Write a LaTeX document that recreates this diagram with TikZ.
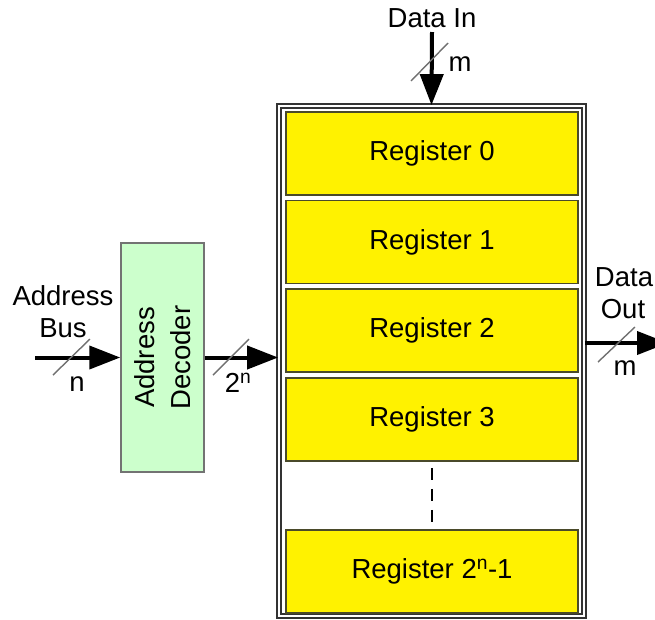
\documentclass[tikz,border=0pt]{standalone}
\usepackage{fontspec}
\setmainfont{Liberation Sans}
\usetikzlibrary{arrows.meta}
\definecolor{regborder}{HTML}{4A4A2A}
\definecolor{decfill}{HTML}{CCFFCC}
\definecolor{slashgray}{HTML}{707070}
\begin{document}
\begin{tikzpicture}[x=1pt,y=-1pt,
  font=\fontsize{27.5}{36}\selectfont,
  reg/.style={draw=regborder, line width=1.6pt, fill=yellow, minimum width=292pt, minimum height=83pt, inner sep=0pt},
  outerbox/.style={draw=black!80, double=white, double distance=2.2pt, line width=1.8pt, minimum width=305pt, minimum height=510pt, inner sep=0pt},
  decoder/.style={draw=black!55, line width=1.5pt, fill=decfill, minimum width=83pt, minimum height=229pt, inner sep=0pt},
  bus/.style={line width=4pt, -{Triangle[length=31pt,width=23pt]}},
  slash/.style={draw=slashgray, line width=1.4pt},
  lbl/.style={inner sep=0pt}]
\useasboundingbox (0,0) rectangle (655,619);
\clip (0,0) rectangle (655,619);

% memory block
\node[outerbox] (mem) at (431.5,361) {};
\node[reg] (r0) at (432,153.5) {Register 0};
\node[reg] (r1) at (432,242) {Register 1};
\node[reg] (r2) at (432,330.5) {Register 2};
\node[reg] (r3) at (432,419.5) {Register 3};
\node[reg] (rn) at (432,571.5) {Register 2\textsuperscript{n}-1};
\draw[line width=1.5pt, dash pattern=on 12pt off 9pt] (r3.south) ++(0,6) coordinate (dtop) -- (rn.north |- 0,524) coordinate (dbot);

% decoder
\node[decoder] (dec) at (162.5,357.5) {};
\node[rotate=90, align=center, lbl] (dect) at (dec.center) {Address\\Decoder};

% address bus
\coordinate (abus) at (35,357.5);
\draw[bus] (abus) -- (dec.west);
\node[lbl] (addrl) at (63,296) {Address};
\node[lbl] (busl) at (63,328) {Bus};
\coordinate (s1a) at (53,375); \coordinate (s1b) at (90,339);
\draw[slash] (s1a) -- (s1b);
\node[lbl] (nl) at (77,384) {n};

% decoder to memory
\draw[bus] (dec.east) -- (mem.west |- dec.east);
\coordinate (s2a) at (213,375); \coordinate (s2b) at (249,339);
\draw[slash] (s2a) -- (s2b);
\node[lbl] (twon) at (238,383) {2\textsuperscript{n}};

% data in
\node[lbl] (dinl) at (432,18) {Data In};
\coordinate (din) at (432,32);
\draw[bus] (din) -- (mem.north);
\coordinate (s3a) at (411,81); \coordinate (s3b) at (448,43);
\draw[slash] (s3a) -- (s3b);
\node[lbl] (m1) at (460,64) {m};

% data out
\node[lbl] (doutl1) at (624,277) {Data};
\node[lbl] (doutl2) at (623,309) {Out};
\coordinate (dout) at (668,343);
\draw[bus] (mem.east |- dout) -- (dout);
\coordinate (s4a) at (598,362); \coordinate (s4b) at (635,327);
\draw[slash] (s4a) -- (s4b);
\node[lbl] (m2) at (625,368) {m};
\end{tikzpicture}
\end{document}
